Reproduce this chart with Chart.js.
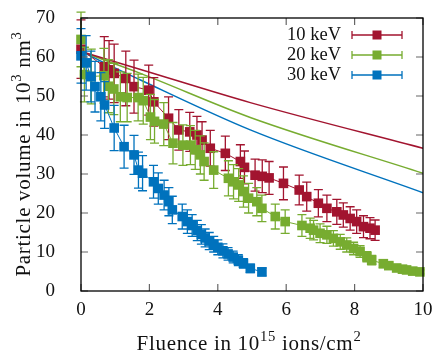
<!DOCTYPE html>
<html lang="en">
<head>
<meta charset="UTF-8">
<script src="https://cdn.jsdelivr.net/npm/chart.js@4.4.1/dist/chart.umd.min.js"></script>
<title>Particle volume vs fluence</title>
<style>
  body { margin: 0; background: #fff; }
  canvas { display: block; }
</style>
</head>
<body>
<canvas id="chart" width="438" height="359"></canvas>
<script>
// measured series: fluence (10^15 ions/cm^2), volume (10^3 nm^3), error
const x10 = [0, 0.68, 0.82, 0.97, 1.31, 1.55, 1.98, 2.13, 2.56, 2.86, 3.18, 3.39, 3.54, 3.78, 4.22, 4.66, 4.78, 5.09, 5.3, 5.5, 5.92, 6.38, 6.6, 6.94, 7.19, 7.48, 7.67, 7.87, 8.06, 8.26, 8.45, 8.6];
const y10 = [62.0, 57.5, 56.7, 55.8, 54.5, 52.4, 51.5, 48.5, 44.3, 41.3, 40.8, 40.0, 38.7, 36.6, 35.3, 33.2, 31.7, 29.7, 29.4, 29.0, 27.6, 25.9, 24.2, 22.5, 21.2, 20.3, 19.5, 18.6, 17.8, 16.5, 16.1, 15.6];
const e10 = [7.5, 7.7, 7.5, 7.5, 7.0, 6.8, 6.4, 6.2, 5.5, 5.2, 5.0, 4.8, 4.7, 4.6, 4.4, 4.3, 4.2, 4.1, 4.2, 4.2, 4.2, 3.8, 3.7, 3.5, 3.4, 3.2, 3.1, 3.0, 3.0, 2.8, 2.7, 2.6];

const x20 = [0, 0.1, 0.3, 0.67, 0.8, 0.96, 1.15, 1.35, 1.67, 1.82, 2.03, 2.15, 2.42, 2.69, 2.98, 3.2, 3.34, 3.49, 3.6, 3.88, 4.31, 4.46, 4.61, 4.75, 4.9, 5.14, 5.29, 5.68, 5.97, 6.46, 6.7, 6.8, 6.99, 7.19, 7.38, 7.58, 7.77, 7.97, 8.16, 8.36, 8.5, 8.84, 9.0, 9.23, 9.4, 9.52, 9.7, 9.91];
const y20 = [64.5, 55.5, 55.0, 55.2, 52.5, 51.8, 49.8, 49.6, 49.6, 48.8, 44.6, 43.5, 42.8, 37.9, 37.4, 37.4, 36.2, 34.9, 33.2, 31.0, 28.9, 28.0, 27.2, 25.5, 23.8, 22.9, 21.2, 19.1, 17.8, 16.8, 16.1, 15.6, 14.8, 14.4, 13.5, 12.6, 11.8, 10.9, 10.1, 8.8, 7.9, 7.0, 6.5, 5.9, 5.6, 5.4, 5.1, 4.9];
const e20 = [7.0, 7.0, 7.0, 7.0, 6.8, 6.6, 6.4, 6.2, 6.0, 6.0, 5.8, 5.6, 5.5, 5.3, 5.2, 5.0, 5.0, 4.9, 4.8, 4.7, 4.5, 4.4, 4.2, 4.0, 3.8, 3.6, 3.4, 3.2, 3.0, 2.8, 2.6, 2.5, 2.4, 2.2, 2.0, 1.9, 1.8, 1.6, 1.5, 1.3, 1.2, 1.0, 0.9, 0.8, 0.7, 0.6, 0.6, 0.5];

const x30 = [0, 0.15, 0.29, 0.41, 0.58, 0.69, 0.97, 1.26, 1.55, 1.68, 1.8, 2.12, 2.26, 2.43, 2.57, 2.67, 2.96, 3.11, 3.25, 3.4, 3.52, 3.63, 3.75, 3.88, 4.0, 4.15, 4.3, 4.45, 4.6, 4.75, 4.95, 5.29];
const y30 = [60.3, 58.5, 55.0, 52.4, 49.8, 47.7, 41.8, 37.0, 34.9, 31.0, 30.2, 28.0, 26.3, 24.6, 22.9, 20.8, 19.1, 17.8, 16.8, 15.5, 14.5, 13.6, 12.8, 12.0, 11.2, 10.3, 9.5, 8.7, 7.9, 7.1, 5.8, 4.9];
const e30 = [7.0, 7.0, 6.5, 6.5, 6.2, 6.0, 5.8, 5.5, 5.0, 4.6, 4.5, 4.2, 4.0, 3.8, 3.6, 3.5, 3.2, 3.0, 2.8, 2.6, 2.5, 2.3, 2.2, 2.0, 1.9, 1.8, 1.6, 1.5, 1.4, 1.2, 1.1, 1.0];

// fit curves
const fitX = [0, 1.74, 4.95, 10];
const fit10 = [61.4, 56.8, 48.3, 36.6];
const fit20 = [61.4, 55.8, 44.5, 30.2];
const fit30 = [61.4, 54.1, 41.3, 25.2];

const xTicks = [0, 2, 4, 6, 8, 10];
const yTicks = [0, 10, 20, 30, 40, 50, 60, 70];
const labels = ['10 keV', '20 keV', '30 keV'];
const colors = ['#A2142F', '#77AC30', '#0072BD'];

const FONT = "'Liberation Serif', 'DejaVu Serif', serif";

function pts(xs, ys) {
  return xs.map((x, i) => ({ x: x, y: ys[i] }));
}

const errs = [e10, e20, e30];

function series(i, xs, ys) {
  return {
    label: labels[i],
    data: pts(xs, ys),
    showLine: true,
    borderColor: colors[i],
    backgroundColor: colors[i],
    borderWidth: 1,
    pointStyle: 'rect',
    pointRadius: 6.8,
    pointBorderWidth: 0,
    clip: false,
    errIndex: i,
    order: 3 - i
  };
}

function fitLine(i, ys) {
  return {
    label: labels[i] + ' fit',
    data: pts(fitX, ys),
    showLine: true,
    borderColor: colors[i],
    borderWidth: 1.5,
    pointRadius: 0,
    cubicInterpolationMode: 'monotone',
    order: 10
  };
}

// error bars, drawn just before the points of each series
const errorBars = {
  id: 'errorBars',
  beforeDatasetDraw(chart, args) {
    const ds = chart.data.datasets[args.index];
    if (ds.errIndex === undefined) return;
    const e = errs[ds.errIndex];
    const ys = chart.scales.y;
    const ctx = chart.ctx;
    ctx.save();
    ctx.strokeStyle = colors[ds.errIndex];
    ctx.lineWidth = 1.3;
    ctx.beginPath();
    args.meta.data.forEach((p, k) => {
      const v = ds.data[k].y;
      const top = ys.getPixelForValue(v + e[k]);
      const bot = ys.getPixelForValue(v - e[k]);
      ctx.moveTo(p.x, top); ctx.lineTo(p.x, bot);
      ctx.moveTo(p.x - 4.5, top); ctx.lineTo(p.x + 4.5, top);
      ctx.moveTo(p.x - 4.5, bot); ctx.lineTo(p.x + 4.5, bot);
    });
    ctx.stroke();
    ctx.restore();
  }
};

// text with superscripts
function richWidth(ctx, parts, size) {
  let w = 0;
  parts.forEach(p => {
    ctx.font = (p.sup ? size * 0.7 : size) + 'px ' + FONT;
    w += ctx.measureText(p.t).width;
  });
  return w;
}
function drawRich(ctx, parts, x, y, size) {
  let cx = x;
  parts.forEach(p => {
    ctx.font = (p.sup ? size * 0.7 : size) + 'px ' + FONT;
    ctx.fillText(p.t, cx, p.sup ? y - size * 0.42 : y);
    cx += ctx.measureText(p.t).width;
  });
}

const frame = {
  id: 'frame',
  afterDraw(chart) {
    const ctx = chart.ctx;
    const a = chart.chartArea;
    const sx = chart.scales.x, sy = chart.scales.y;
    ctx.save();
    // inward ticks on all sides
    ctx.strokeStyle = '#666';
    ctx.lineWidth = 1.2;
    ctx.beginPath();
    xTicks.forEach(t => {
      const px = sx.getPixelForValue(t);
      ctx.moveTo(px, a.bottom); ctx.lineTo(px, a.bottom - 7);
      ctx.moveTo(px, a.top); ctx.lineTo(px, a.top + 7);
    });
    yTicks.forEach(t => {
      const py = sy.getPixelForValue(t);
      ctx.moveTo(a.left, py); ctx.lineTo(a.left + 7, py);
      ctx.moveTo(a.right, py); ctx.lineTo(a.right - 7, py);
    });
    ctx.stroke();
    ctx.strokeStyle = '#000';
    ctx.lineWidth = 1.3;
    ctx.strokeRect(a.left, a.top, a.right - a.left, a.bottom - a.top);

    // legend
    ctx.textAlign = 'right';
    ctx.textBaseline = 'middle';
    ctx.fillStyle = '#111';
    ctx.font = '18.5px ' + FONT;
    labels.forEach((l, i) => {
      const ly = 35 + i * 20;
      ctx.fillText(l, 341, ly);
      ctx.strokeStyle = colors[i];
      ctx.lineWidth = 1.3;
      ctx.beginPath();
      ctx.moveTo(352, ly); ctx.lineTo(402, ly);
      ctx.moveTo(352, ly - 4); ctx.lineTo(352, ly + 4);
      ctx.moveTo(402, ly - 4); ctx.lineTo(402, ly + 4);
      ctx.stroke();
      ctx.fillStyle = colors[i];
      ctx.fillRect(372.5, ly - 4.5, 9, 9);
      ctx.fillStyle = '#111';
    });

    // axis titles
    ctx.textAlign = 'left';
    ctx.textBaseline = 'alphabetic';
    ctx.letterSpacing = '0.7px';
    const xt = [{ t: 'Fluence in 10' }, { t: '15', sup: true }, { t: ' ions/cm' }, { t: '2', sup: true }];
    const wx = richWidth(ctx, xt, 21);
    drawRich(ctx, xt, 249 - wx / 2, 350, 21);
    const yt = [{ t: 'Particle volume in 10' }, { t: '3', sup: true }, { t: ' nm' }, { t: '3', sup: true }];
    const wy = richWidth(ctx, yt, 21);
    ctx.translate(30, 154);
    ctx.rotate(-Math.PI / 2);
    drawRich(ctx, yt, -wy / 2, 0, 21);
    ctx.restore();
  }
};

const chart = new Chart(document.getElementById('chart'), {
  type: 'scatter',
  data: {
    datasets: [
      series(0, x10, y10),
      series(1, x20, y20),
      series(2, x30, y30),
      fitLine(0, fit10),
      fitLine(1, fit20),
      fitLine(2, fit30)
    ]
  },
  options: {
    responsive: false,
    animation: false,
    devicePixelRatio: 1,
    layout: { autoPadding: false, padding: { top: 18, right: 15, left: 0, bottom: 0 } },
    plugins: { legend: { display: false }, tooltip: { enabled: false } },
    scales: {
      x: {
        type: 'linear', min: 0, max: 10,
        afterFit: s => { s.height = 68; s.paddingLeft = 0; s.paddingRight = 0; },
        afterBuildTicks: s => { s.ticks = xTicks.map(v => ({ value: v })); },
        grid: { display: false, drawTicks: false },
        border: { display: false },
        ticks: { color: '#111', padding: 8, font: { family: FONT, size: 19 } }
      },
      y: {
        type: 'linear', min: 0, max: 70,
        afterFit: s => { s.width = 81; s.paddingTop = 0; s.paddingBottom = 0; },
        afterBuildTicks: s => { s.ticks = yTicks.map(v => ({ value: v })); },
        grid: { display: false, drawTicks: false },
        border: { display: false },
        ticks: { color: '#111', padding: 26, font: { family: FONT, size: 19 } }
      }
    }
  },
  plugins: [errorBars, frame]
});
</script>
</body>
</html>
